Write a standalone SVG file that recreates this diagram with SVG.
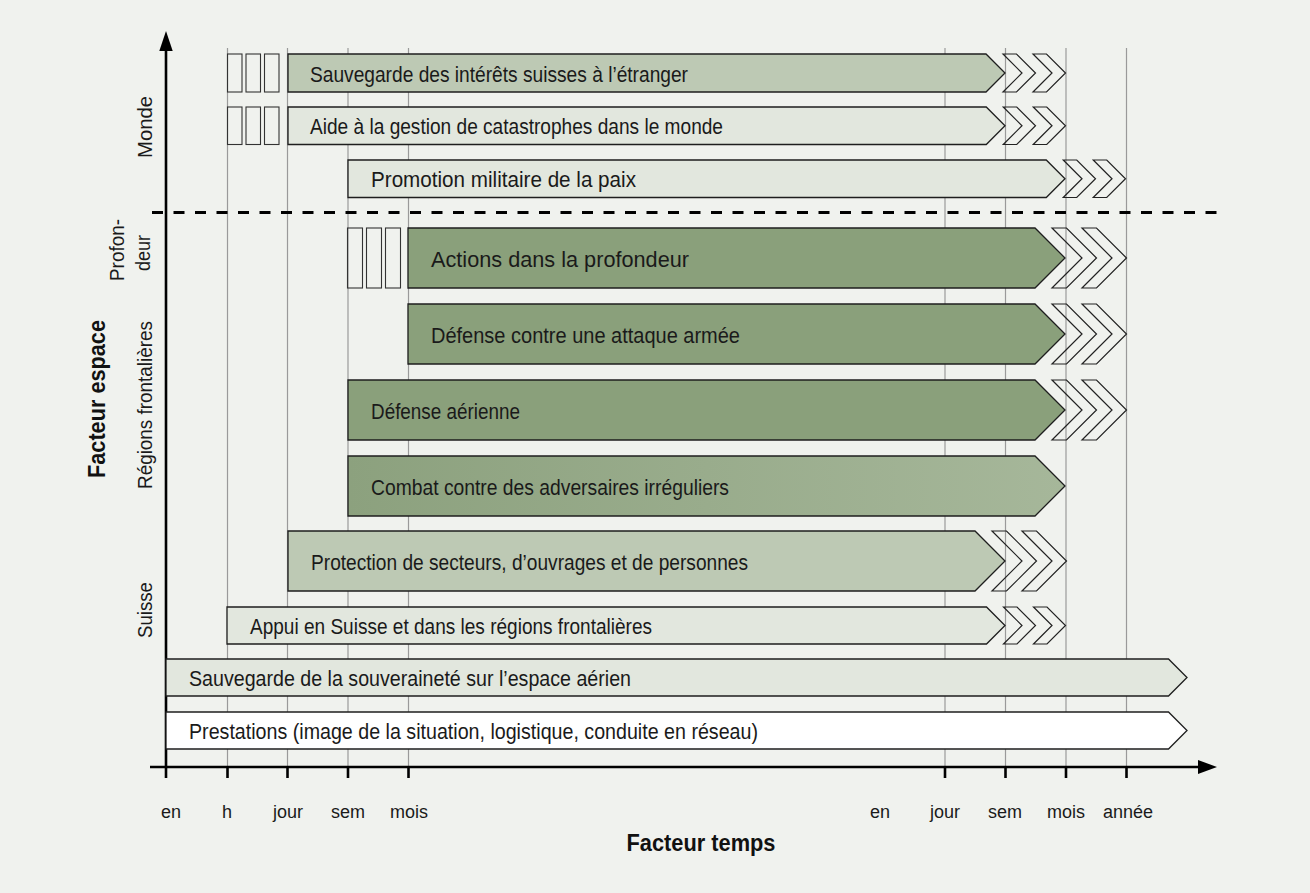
<svg xmlns="http://www.w3.org/2000/svg" width="1310" height="893" viewBox="0 0 1310 893">
<defs>
<style>
.bg{fill:#f0f2ee}
.grid{stroke:#9a9a9a;stroke-width:1.2}
.bar{stroke:#1e1e1e;stroke-width:1.3;stroke-linejoin:miter}
.dark{fill:#8aa07b}
.med{fill:#bdc9b4}
.light{fill:#e2e7de}
.white{fill:#ffffff}
.chev{fill:none;stroke:#222;stroke-width:1.2;stroke-linejoin:miter}
.box{fill:none;stroke:#333;stroke-width:1.1}
.lbl{font-family:"Liberation Sans",Arial,sans-serif;font-size:22px;fill:#1a1a1a}
.ax{font-family:"Liberation Sans",Arial,sans-serif;font-size:20px;fill:#1a1a1a;text-anchor:middle}
.tk{font-family:"Liberation Sans",Arial,sans-serif;font-size:18px;fill:#1a1a1a;text-anchor:middle}
.title{font-family:"Liberation Sans",Arial,sans-serif;font-size:24px;font-weight:bold;fill:#111;text-anchor:middle}
.axis{stroke:#000;stroke-width:2.6;fill:none}
</style>
<linearGradient id="gCombat" x1="0" y1="0" x2="1" y2="0">
<stop offset="0" stop-color="#8ca17e"/>
<stop offset="1" stop-color="#a6b79a"/>
</linearGradient>
</defs>
<rect class="bg" x="0" y="0" width="1310" height="893"/>

<g id="grid">
<line class="grid" x1="227.5" y1="48" x2="227.5" y2="767"/>
<line class="grid" x1="287.5" y1="48" x2="287.5" y2="767"/>
<line class="grid" x1="348" y1="48" x2="348" y2="767"/>
<line class="grid" x1="408.5" y1="48" x2="408.5" y2="767"/>
<line class="grid" x1="945" y1="48" x2="945" y2="767"/>
<line class="grid" x1="1005.5" y1="48" x2="1005.5" y2="767"/>
<line class="grid" x1="1066" y1="48" x2="1066" y2="767"/>
<line class="grid" x1="1126.5" y1="48" x2="1126.5" y2="767"/>
</g>

<g id="connectors">
<line x1="152" y1="212.5" x2="1217" y2="212.5" stroke="#000" stroke-width="3" stroke-dasharray="11 10.5"/>
<line class="axis" x1="166" y1="767" x2="166" y2="48"/>
<polygon points="166,31 159.3,51 172.7,51" fill="#000"/>
<line class="axis" x1="150" y1="767" x2="1200" y2="767"/>
<polygon points="1217,767 1198,760 1198,774" fill="#000"/>
<g stroke="#000" stroke-width="2.6">
<line x1="166" y1="767" x2="166" y2="778"/>
<line x1="227.5" y1="767" x2="227.5" y2="778"/>
<line x1="287.5" y1="767" x2="287.5" y2="778"/>
<line x1="348" y1="767" x2="348" y2="778"/>
<line x1="408.5" y1="767" x2="408.5" y2="778"/>
<line x1="945" y1="767" x2="945" y2="778"/>
<line x1="1005.5" y1="767" x2="1005.5" y2="778"/>
<line x1="1066" y1="767" x2="1066" y2="778"/>
<line x1="1126.5" y1="767" x2="1126.5" y2="778"/>
</g>
</g>

<g id="n-sauvegarde-interets">
<rect class="box" x="227.5" y="54" width="14.5" height="38"/>
<rect class="box" x="246" y="54" width="14.5" height="38"/>
<rect class="box" x="264.5" y="54" width="14.5" height="38"/>
<polygon class="bar med" points="288,54 986,54 1005,73 986,92 288,92"/>
<polygon class="chev" points="1003,54 1016.5,54 1035.5,73 1016.5,92 1003,92 1022,73"/>
<polygon class="chev" points="1033,54 1046.5,54 1065.5,73 1046.5,92 1033,92 1052,73"/>
<text class="lbl" x="310" y="81.5" textLength="378" lengthAdjust="spacingAndGlyphs">Sauvegarde des intérêts suisses à l’étranger</text>
</g>

<g id="n-aide">
<rect class="box" x="227.5" y="107" width="14.5" height="37.5"/>
<rect class="box" x="246" y="107" width="14.5" height="37.5"/>
<rect class="box" x="264.5" y="107" width="14.5" height="37.5"/>
<polygon class="bar light" points="288,107 986.25,107 1005,125.75 986.25,144.5 288,144.5"/>
<polygon class="chev" points="1003.25,107 1016.75,107 1035.5,125.75 1016.75,144.5 1003.25,144.5 1022,125.75"/>
<polygon class="chev" points="1033.25,107 1046.75,107 1065.5,125.75 1046.75,144.5 1033.25,144.5 1052,125.75"/>
<text class="lbl" x="310" y="134.2" textLength="413" lengthAdjust="spacingAndGlyphs">Aide à la gestion de catastrophes dans le monde</text>
</g>

<g id="n-promotion">
<polygon class="bar light" points="348,160 1046.25,160 1065,178.75 1046.25,197.5 348,197.5"/>
<polygon class="chev" points="1063.25,160 1076.75,160 1095.5,178.75 1076.75,197.5 1063.25,197.5 1082,178.75"/>
<polygon class="chev" points="1093.25,160 1106.75,160 1125.5,178.75 1106.75,197.5 1093.25,197.5 1112,178.75"/>
<text class="lbl" x="371" y="187.2" textLength="265" lengthAdjust="spacingAndGlyphs">Promotion militaire de la paix</text>
</g>

<g id="n-actions">
<rect class="box" x="347.5" y="228" width="15" height="60"/>
<rect class="box" x="366.5" y="228" width="15" height="60"/>
<rect class="box" x="385.5" y="228" width="15" height="60"/>
<polygon class="bar dark" points="408,228 1035,228 1065,258 1035,288 408,288"/>
<polygon class="chev" points="1052,228 1066.5,228 1096.5,258 1066.5,288 1052,288 1082,258"/>
<polygon class="chev" points="1082,228 1096.5,228 1126.5,258 1096.5,288 1082,288 1112,258"/>
<text class="lbl" x="431" y="266.5" textLength="258" lengthAdjust="spacingAndGlyphs">Actions dans la profondeur</text>
</g>

<g id="n-defense-attaque">
<polygon class="bar dark" points="408,304 1035,304 1065,334 1035,364 408,364"/>
<polygon class="chev" points="1052,304 1066.5,304 1096.5,334 1066.5,364 1052,364 1082,334"/>
<polygon class="chev" points="1082,304 1096.5,304 1126.5,334 1096.5,364 1082,364 1112,334"/>
<text class="lbl" x="431" y="342.5" textLength="309" lengthAdjust="spacingAndGlyphs">Défense contre une attaque armée</text>
</g>

<g id="n-defense-aerienne">
<polygon class="bar dark" points="348,380 1035,380 1065,410 1035,440 348,440"/>
<polygon class="chev" points="1052,380 1066.5,380 1096.5,410 1066.5,440 1052,440 1082,410"/>
<polygon class="chev" points="1082,380 1096.5,380 1126.5,410 1096.5,440 1082,440 1112,410"/>
<text class="lbl" x="371" y="418.5" textLength="149" lengthAdjust="spacingAndGlyphs">Défense aérienne</text>
</g>

<g id="n-combat">
<polygon class="bar" fill="url(#gCombat)" points="348,456 1035,456 1065,486 1035,516 348,516"/>
<text class="lbl" x="371" y="494.5" textLength="358" lengthAdjust="spacingAndGlyphs">Combat contre des adversaires irréguliers</text>
</g>

<g id="n-protection">
<polygon class="bar med" points="288,531 975,531 1005,561 975,591 288,591"/>
<polygon class="chev" points="992,531 1006.5,531 1036.5,561 1006.5,591 992,591 1022,561"/>
<polygon class="chev" points="1022,531 1036.5,531 1066.5,561 1036.5,591 1022,591 1052,561"/>
<text class="lbl" x="311" y="569.5" textLength="437" lengthAdjust="spacingAndGlyphs">Protection de secteurs, d’ouvrages et de personnes</text>
</g>

<g id="n-appui">
<polygon class="bar light" points="227,607 986.5,607 1005,625.5 986.5,644 227,644"/>
<polygon class="chev" points="1003.5,607 1017,607 1035.5,625.5 1017,644 1003.5,644 1022,625.5"/>
<polygon class="chev" points="1033.5,607 1047,607 1065.5,625.5 1047,644 1033.5,644 1052,625.5"/>
<text class="lbl" x="250" y="634" textLength="402" lengthAdjust="spacingAndGlyphs">Appui en Suisse et dans les régions frontalières</text>
</g>

<g id="n-souverainete">
<polygon class="bar light" points="166,659 1168.5,659 1187,677.5 1168.5,696 166,696"/>
<text class="lbl" x="189" y="686" textLength="442" lengthAdjust="spacingAndGlyphs">Sauvegarde de la souveraineté sur l’espace aérien</text>
</g>

<g id="n-prestations">
<polygon class="bar white" points="166,712 1168.5,712 1187,730.5 1168.5,749 166,749"/>
<text class="lbl" x="189" y="739" textLength="569" lengthAdjust="spacingAndGlyphs">Prestations (image de la situation, logistique, conduite en réseau)</text>
</g>

<g id="y-labels">
<text class="ax" transform="translate(152,127) rotate(-90)" textLength="62" lengthAdjust="spacingAndGlyphs">Monde</text>
<text class="ax" transform="translate(124,250) rotate(-90)" textLength="62" lengthAdjust="spacingAndGlyphs">Profon-</text>
<text class="ax" transform="translate(150,253) rotate(-90)" textLength="36" lengthAdjust="spacingAndGlyphs">deur</text>
<text class="ax" transform="translate(152,405) rotate(-90)" textLength="168" lengthAdjust="spacingAndGlyphs">Régions frontalières</text>
<text class="ax" transform="translate(152,610) rotate(-90)" textLength="56" lengthAdjust="spacingAndGlyphs">Suisse</text>
<text class="title" transform="translate(105,399) rotate(-90)" textLength="158" lengthAdjust="spacingAndGlyphs">Facteur espace</text>
</g>

<g id="x-labels">
<text class="tk" x="171" y="818">en</text>
<text class="tk" x="227" y="818">h</text>
<text class="tk" x="288" y="818">jour</text>
<text class="tk" x="348" y="818">sem</text>
<text class="tk" x="409" y="818">mois</text>
<text class="tk" x="880" y="818">en</text>
<text class="tk" x="945" y="818">jour</text>
<text class="tk" x="1005" y="818">sem</text>
<text class="tk" x="1066" y="818">mois</text>
<text class="tk" x="1128" y="818">année</text>
<text class="title" x="701" y="851" textLength="149" lengthAdjust="spacingAndGlyphs">Facteur temps</text>
</g>
</svg>
